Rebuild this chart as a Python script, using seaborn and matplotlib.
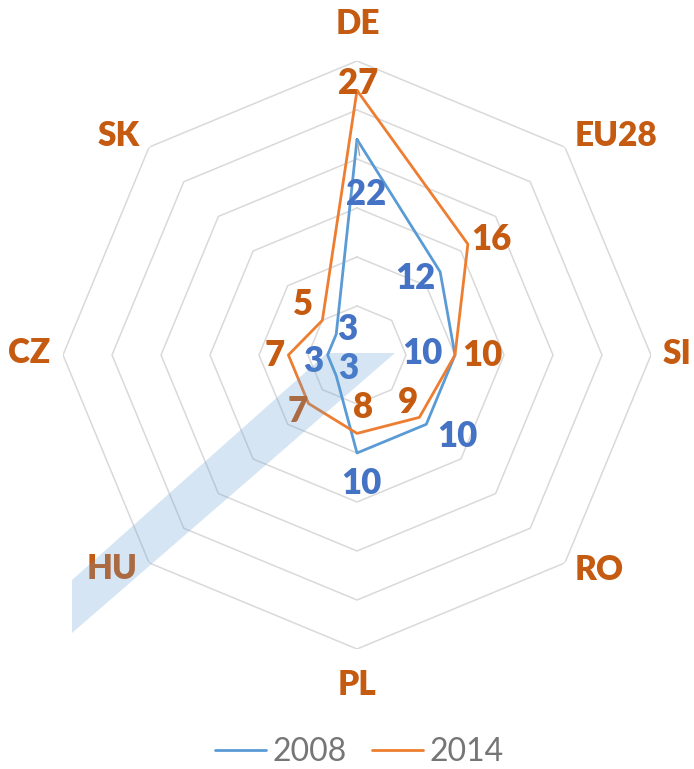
"""Radar chart: 2008 vs 2014 by country."""
import matplotlib

matplotlib.use("Agg")

import matplotlib.pyplot as plt
import numpy as np
import pandas as pd
import seaborn as sns
from matplotlib.patches import Polygon

categories = ["DE", "EU28", "SI", "RO", "PL", "HU", "CZ", "SK"]
values_2008 = [22, 12, 10, 10, 10, 3, 3, 3]
values_2014 = [27, 16, 10, 9, 8, 7, 7, 5]
years = ["2008", "2014"]
grid_levels = [5, 10, 15, 20, 25, 30]

# label placement (pixel offsets from the point / from the outer vertex)
offsets_2008 = [(9, -56), (-25, -8), (-33, 0), (31, -13), (4, -31), (12, 6), (-14, -8), (11, 4)]
offsets_2014 = [(1, 6), (23, 4), (27, -2), (-11, 14), (6, 25), (-11, -9), (-14, -2), (-19, 15)]
name_offsets = [(1, 36, "center"), (10, 10, "left"), (12, 0, "left"), (10, -8, "left"),
                (0, -37, "center"), (-12, -7, "right"), (-13, 1, "right"), (-9, 10, "right")]

line_colors = {"2008": "#5B9BD5", "2014": "#ED7D31"}
label_colors = {"2008": "#4472C4", "2014": "#C55A11"}

sns.set_style("white")
plt.rcParams["font.family"] = ["Lato", "DejaVu Sans"]

n = len(categories)
theta = np.arange(n) * 2 * np.pi / n
theta_closed = np.append(theta, 2 * np.pi)

rows = []
for year, vals in zip(years, [values_2008, values_2014]):
    for t, v in zip(theta_closed, vals + vals[:1]):
        rows.append({"theta": t, "value": v, "year": year})
df = pd.DataFrame(rows)

fig = plt.figure(figsize=(6.94, 7.69), dpi=100)
W, H = 694, 769
cx, cy, rad = 357, 355, 294
ax = fig.add_axes([(cx - rad) / W, (H - cy - rad) / H, 2 * rad / W, 2 * rad / H],
                  projection="polar")
ax.set_theta_zero_location("N")
ax.set_theta_direction(-1)
ax.set_ylim(0, 30)
ax.grid(False)
ax.set_xticks([])
ax.set_yticks([])
ax.spines["polar"].set_visible(False)

for lvl in grid_levels:
    ax.plot(theta_closed, [lvl] * len(theta_closed), color="#D9D9D9", lw=1.1, zorder=1)

sns.lineplot(data=df, x="theta", y="value", hue="year", palette=line_colors,
             sort=False, estimator=None, lw=2.0, ax=ax, zorder=3)
ax.set_xlabel("")
ax.set_ylabel("")
handles, labels = ax.get_legend_handles_labels()
if ax.get_legend() is not None:
    ax.get_legend().remove()

for year, vals, offs in zip(years, [values_2008, values_2014], [offsets_2008, offsets_2014]):
    for t, v, (dx, dy) in zip(theta, vals, offs):
        kw = {}
        if year == "2008" and v == 22:
            kw["arrowprops"] = dict(arrowstyle="-", color="#A6A6A6", lw=1,
                                    shrinkA=14, shrinkB=2)
        ax.annotate(str(v), xy=(t, v), xytext=(dx, dy + 1), textcoords="offset pixels",
                    ha="center", va="center", fontsize=25, fontweight="heavy",
                    color=label_colors[year], zorder=4, annotation_clip=False, **kw)

for t, name, (dx, dy, ha) in zip(theta, categories, name_offsets):
    ax.annotate(name, xy=(t, 30), xytext=(dx, dy + 1), textcoords="offset pixels",
                ha=ha, va="center", fontsize=24, fontweight="heavy",
                color="#C55A11", annotation_clip=False)

# translucent band shape sitting over the chart
band_px = [(72, 580), (327, 353), (395, 353), (72, 633)]
band = Polygon([(x / W, 1 - y / H) for x, y in band_px], closed=True,
               transform=fig.transFigure, facecolor="#5B9BD5", alpha=0.25,
               edgecolor="none", zorder=5)
fig.add_artist(band)

fig.legend(handles, labels, loc="center", bbox_to_anchor=(0.518, 1 - 752 / H),
           ncol=2, frameon=False, fontsize=23, handlelength=1.6, handletextpad=0.2,
           columnspacing=0.8, labelcolor="#767676")

fig.savefig("out.png", dpi=100)
